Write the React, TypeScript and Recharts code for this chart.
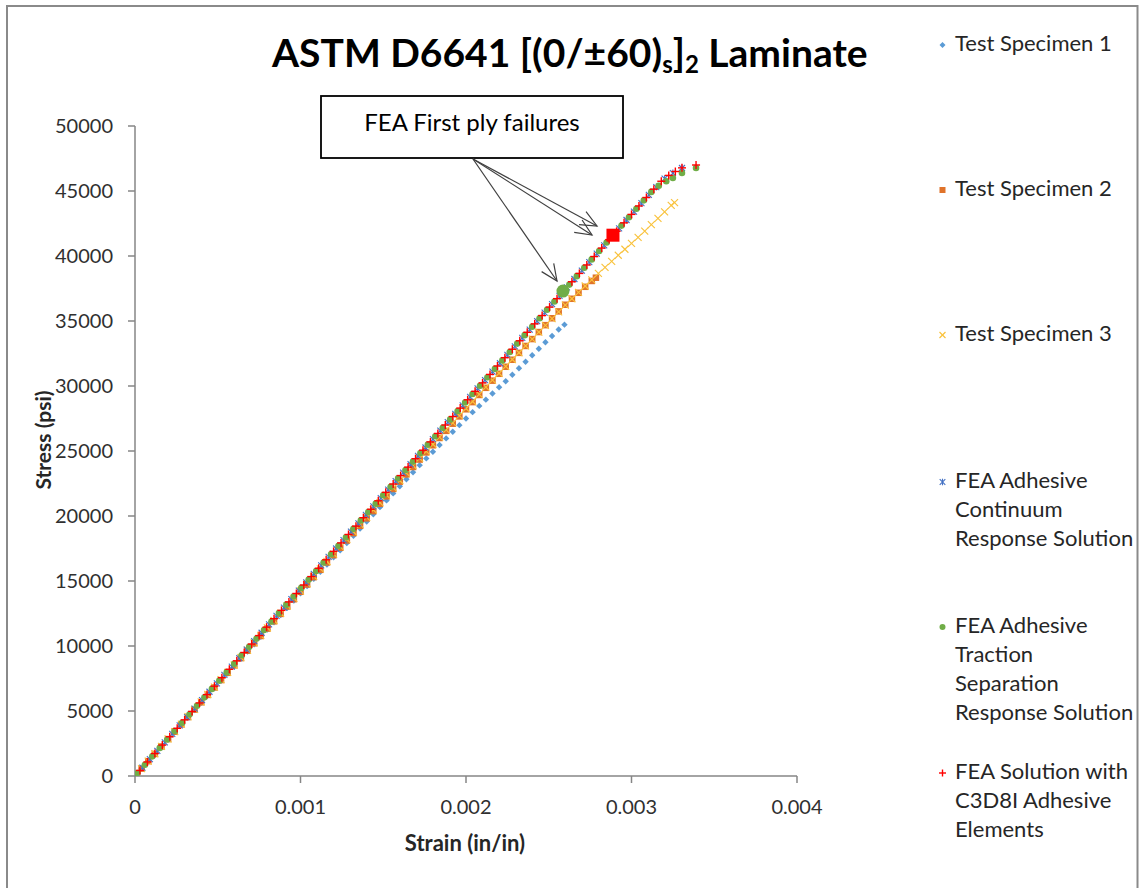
import React from 'react';
import { ScatterChart, Scatter, XAxis, YAxis } from 'recharts';

type P = [number, number]; // [strain in microstrain, stress in psi]

const xTicks = [0, 0.001, 0.002, 0.003, 0.004];
const yTicks = [0, 5000, 10000, 15000, 20000, 25000, 30000, 35000, 40000, 45000, 50000];

const seriesNames = [
  'Test Specimen 1',
  'Test Specimen 2',
  'Test Specimen 3',
  'FEA Adhesive Continuum Response Solution',
  'FEA Adhesive Traction Separation Response Solution',
  'FEA Solution with C3D8I Adhesive Elements',
];

const specimen1: P[] = [
  [0, 0], [40, 570], [80, 1130], [120, 1700], [160, 2260], [200, 2830], [240, 3390], [280, 3950], [320, 4520],
  [360, 5080], [400, 5640], [440, 6210], [480, 6770], [520, 7330], [560, 7890], [600, 8450], [640, 9020],
  [680, 9580], [720, 10140], [760, 10700], [800, 11260], [840, 11820], [880, 12380], [920, 12930], [960, 13490],
  [1000, 14050], [1040, 14610], [1080, 15160], [1120, 15710], [1160, 16270], [1200, 16820], [1240, 17370],
  [1280, 17920], [1320, 18480], [1360, 19030], [1400, 19580], [1440, 20130], [1480, 20680], [1520, 21200],
  [1560, 21740], [1600, 22280], [1640, 22830], [1680, 23370], [1720, 23910], [1760, 24430], [1800, 24940],
  [1840, 25460], [1880, 25970], [1920, 26480], [1960, 26990], [2000, 27500], [2040, 27990], [2080, 28470],
  [2120, 28950], [2160, 29420], [2200, 29900], [2240, 30370], [2280, 30860], [2320, 31370], [2360, 31870],
  [2400, 32370], [2440, 32860], [2480, 33360], [2520, 33850], [2560, 34350], [2595, 34720],
];

const specimen2: P[] = [
  [0, 0], [40, 570], [80, 1140], [120, 1700], [160, 2270], [200, 2840], [240, 3410], [280, 3970], [320, 4540],
  [360, 5110], [400, 5670], [440, 6240], [480, 6810], [520, 7380], [560, 7940], [600, 8510], [640, 9070],
  [680, 9640], [720, 10210], [760, 10770], [800, 11340], [840, 11900], [880, 12470], [920, 13040], [960, 13600],
  [1000, 14170], [1040, 14730], [1080, 15300], [1120, 15860], [1160, 16430], [1200, 16990], [1240, 17560],
  [1280, 18120], [1320, 18690], [1360, 19250], [1400, 19820], [1440, 20380], [1480, 20940], [1520, 21510],
  [1560, 22080], [1600, 22640], [1640, 23200], [1680, 23770], [1720, 24340], [1760, 24890], [1800, 25440],
  [1840, 26000], [1880, 26550], [1920, 27100], [1960, 27660], [2000, 28210], [2040, 28760], [2080, 29310],
  [2120, 29860], [2160, 30410], [2200, 30940], [2240, 31480], [2280, 32020], [2320, 32550], [2360, 33080],
  [2400, 33610], [2440, 34150], [2480, 34680], [2520, 35210], [2560, 35740], [2600, 36250], [2640, 36710],
  [2680, 37170], [2720, 37630], [2760, 38080], [2785, 38330],
];

const specimen3: P[] = [
  [0, 0], [40, 570], [80, 1140], [120, 1710], [160, 2280], [200, 2850], [240, 3420], [280, 3990], [320, 4560],
  [360, 5130], [400, 5700], [440, 6270], [480, 6840], [520, 7410], [560, 7970], [600, 8540], [640, 9110],
  [680, 9680], [720, 10250], [760, 10820], [800, 11390], [840, 11960], [880, 12520], [920, 13090], [960, 13660],
  [1000, 14230], [1040, 14800], [1080, 15360], [1120, 15930], [1160, 16500], [1200, 17070], [1240, 17630],
  [1280, 18200], [1320, 18770], [1360, 19330], [1400, 19900], [1440, 20470], [1480, 21030], [1520, 21600],
  [1560, 22170], [1600, 22730], [1640, 23300], [1680, 23870], [1720, 24430], [1760, 24970], [1800, 25520],
  [1840, 26070], [1880, 26620], [1920, 27170], [1960, 27720], [2000, 28270], [2040, 28810], [2080, 29360],
  [2120, 29910], [2160, 30450], [2200, 30980], [2240, 31510], [2280, 32040], [2320, 32560], [2360, 33090],
  [2400, 33610], [2440, 34140], [2480, 34660], [2520, 35180], [2560, 35700], [2600, 36220], [2640, 36710],
  [2680, 37200], [2720, 37690], [2760, 38170], [2800, 38660], [2840, 39130], [2880, 39590], [2920, 40060],
  [2960, 40520], [3000, 40970], [3040, 41430], [3080, 41910], [3120, 42410], [3160, 42900], [3200, 43400],
  [3240, 43890], [3260, 44100],
];

const feaContinuum: P[] = [
  [0, 0], [45, 650], [90, 1300], [135, 1940], [180, 2590], [225, 3240], [270, 3890], [315, 4530], [360, 5180],
  [405, 5830], [450, 6480], [495, 7130], [540, 7780], [585, 8420], [630, 9070], [675, 9720], [720, 10370],
  [765, 11020], [810, 11660], [855, 12310], [900, 12960], [945, 13610], [990, 14260], [1035, 14900], [1080, 15550],
  [1125, 16200], [1170, 16850], [1215, 17500], [1260, 18140], [1305, 18790], [1350, 19440], [1395, 20090],
  [1440, 20740], [1485, 21380], [1530, 22030], [1575, 22680], [1620, 23330], [1665, 23980], [1710, 24620],
  [1755, 25270], [1800, 25920], [1845, 26570], [1890, 27220], [1935, 27860], [1980, 28510], [2025, 29160],
  [2070, 29810], [2115, 30460], [2160, 31100], [2205, 31750], [2250, 32400], [2295, 33050], [2340, 33700],
  [2385, 34340], [2430, 34990], [2475, 35640], [2520, 36290], [2565, 36940], [2610, 37580], [2655, 38230],
  [2700, 38880], [2745, 39530], [2790, 40180], [2835, 40820], [2880, 41470], [2925, 42120], [2970, 42770],
  [3015, 43420], [3060, 44060], [3105, 44710], [3150, 45300], [3200, 45950], [3250, 46380], [3305, 46770],
];

const feaTraction: P[] = [
  [15, 220], [60, 860], [105, 1510], [150, 2160], [195, 2810], [240, 3460], [285, 4100], [330, 4750], [375, 5400],
  [420, 6050], [465, 6700], [510, 7340], [555, 7990], [600, 8640], [645, 9290], [690, 9940], [735, 10580],
  [780, 11230], [825, 11880], [870, 12530], [915, 13180], [960, 13820], [1005, 14470], [1050, 15120], [1095, 15770],
  [1140, 16420], [1185, 17060], [1230, 17710], [1275, 18360], [1320, 19010], [1365, 19660], [1410, 20300],
  [1455, 20950], [1500, 21600], [1545, 22250], [1590, 22900], [1635, 23540], [1680, 24190], [1725, 24840],
  [1770, 25490], [1815, 26140], [1860, 26780], [1905, 27430], [1950, 28080], [1995, 28730], [2040, 29380],
  [2085, 30020], [2130, 30670], [2175, 31320], [2220, 31970], [2265, 32620], [2310, 33260], [2355, 33910],
  [2400, 34560], [2445, 35210], [2490, 35860], [2535, 36500], [2580, 37150], [2625, 37800], [2670, 38450],
  [2715, 39100], [2760, 39740], [2805, 40390], [2850, 41040], [2895, 41690], [2940, 42340], [2985, 42980],
  [3030, 43630], [3075, 44280], [3120, 44930], [3165, 45400], [3210, 45750], [3250, 46000], [3305, 46380],
  [3390, 46770],
];

const feaC3D8I: P[] = [
  [30, 430], [75, 1080], [120, 1730], [165, 2380], [210, 3020], [255, 3670], [300, 4320], [345, 4970], [390, 5620],
  [435, 6260], [480, 6910], [525, 7560], [570, 8210], [615, 8860], [660, 9500], [705, 10150], [750, 10800],
  [795, 11450], [840, 12100], [885, 12740], [930, 13390], [975, 14040], [1020, 14690], [1065, 15340], [1110, 15980],
  [1155, 16630], [1200, 17280], [1245, 17930], [1290, 18580], [1335, 19220], [1380, 19870], [1425, 20520],
  [1470, 21170], [1515, 21820], [1560, 22460], [1605, 23110], [1650, 23760], [1695, 24410], [1740, 25060],
  [1785, 25700], [1830, 26350], [1875, 27000], [1920, 27650], [1965, 28300], [2010, 28940], [2055, 29590],
  [2100, 30240], [2145, 30890], [2190, 31540], [2235, 32180], [2280, 32830], [2325, 33480], [2370, 34130],
  [2415, 34780], [2460, 35420], [2505, 36070], [2550, 36720], [2595, 37370], [2640, 38020], [2685, 38660],
  [2730, 39310], [2775, 39960], [2820, 40610], [2865, 41260], [2910, 41900], [2955, 42550], [3000, 43200],
  [3045, 43850], [3090, 44500], [3135, 45140], [3180, 45750], [3225, 46200], [3265, 46500], [3305, 46780],
  [3390, 47000],
];

const firstPlyTraction: P[] = [[2586, 37300]];
const firstPlyC3D8I: P[] = [[2888, 41600]];

const toPts = (a: P[]) => a.map(([e, s]) => ({ x: e / 1e6, y: s }));

const W = 1139;
const H = 888;
const FONT = 'Lato, "Open Sans", sans-serif';
const C_BLUE = '#5B9BD5';
const C_ORANGE = '#E0732A';
const C_YELLOW = '#F9C23C';
const C_DBLUE = '#4472C4';
const C_GREEN = '#70AD47';
const C_RED = '#FF0000';

const Diamond = ({ cx, cy, r = 3.2 }: any) => (
  <polygon points={`${cx},${cy - r} ${cx + r},${cy} ${cx},${cy + r} ${cx - r},${cy}`} fill={C_BLUE} />
);
const Square = ({ cx, cy, s = 6.5 }: any) => (
  <rect x={cx - s / 2} y={cy - s / 2} width={s} height={s} fill={C_ORANGE} />
);
const XMark = ({ cx, cy, h = 3.5 }: any) => (
  <g stroke={C_YELLOW} strokeWidth={1.15}>
    <line x1={cx - h} y1={cy - h} x2={cx + h} y2={cy + h} />
    <line x1={cx - h} y1={cy + h} x2={cx + h} y2={cy - h} />
  </g>
);
const Star = ({ cx, cy, h = 3 }: any) => (
  <g stroke={C_DBLUE} strokeWidth={1.1}>
    <line x1={cx - h} y1={cy - h} x2={cx + h} y2={cy + h} />
    <line x1={cx - h} y1={cy + h} x2={cx + h} y2={cy - h} />
    <line x1={cx} y1={cy - h - 0.5} x2={cx} y2={cy + h + 0.5} />
  </g>
);
const Dot = ({ cx, cy, r = 3.3 }: any) => <circle cx={cx} cy={cy} r={r} fill={C_GREEN} />;
const Plus = ({ cx, cy, h = 4 }: any) => (
  <g stroke={C_RED} strokeWidth={1.4}>
    <line x1={cx - h} y1={cy} x2={cx + h} y2={cy} />
    <line x1={cx} y1={cy - h} x2={cx} y2={cy + h} />
  </g>
);
const BigDot = ({ cx, cy }: any) => <circle cx={cx} cy={cy} r={6.5} fill={C_GREEN} />;
const BigSquare = ({ cx, cy }: any) => (
  <rect x={cx - 6.5} y={cy - 6.5} width={13} height={13} fill={C_RED} />
);

const legendItems: { lines: string[]; baseline: number; marker: (cx: number, cy: number) => React.ReactNode }[] = [
  { lines: ['Test Specimen 1'], baseline: 51, marker: (cx, cy) => <Diamond cx={cx} cy={cy} r={3} /> },
  { lines: ['Test Specimen 2'], baseline: 196, marker: (cx, cy) => <Square cx={cx} cy={cy} s={6} /> },
  { lines: ['Test Specimen 3'], baseline: 341, marker: (cx, cy) => <XMark cx={cx} cy={cy} h={3} /> },
  { lines: ['FEA Adhesive', 'Continuum', 'Response Solution'], baseline: 488, marker: (cx, cy) => <Star cx={cx} cy={cy} h={2.8} /> },
  { lines: ['FEA Adhesive', 'Traction', 'Separation', 'Response Solution'], baseline: 633, marker: (cx, cy) => <Dot cx={cx} cy={cy} r={3} /> },
  { lines: ['FEA Solution with', 'C3D8I Adhesive', 'Elements'], baseline: 779, marker: (cx, cy) => <Plus cx={cx} cy={cy} h={3.5} /> },
];

const arrowStart = { x: 473, y: 159 };
const arrowTips = [
  { x: 557, y: 281 },
  { x: 597, y: 226 },
  { x: 592, y: 235 },
];

function Arrow({ x1, y1, x2, y2 }: { x1: number; y1: number; x2: number; y2: number }) {
  const ang = Math.atan2(y2 - y1, x2 - x1);
  const L = 18;
  const spread = 0.42;
  const a1 = ang + Math.PI - spread;
  const a2 = ang + Math.PI + spread;
  return (
    <g stroke="#404040" strokeWidth={1.2} fill="none">
      <line x1={x1} y1={y1} x2={x2} y2={y2} />
      <polyline
        points={`${x2 + L * Math.cos(a1)},${y2 + L * Math.sin(a1)} ${x2},${y2} ${x2 + L * Math.cos(a2)},${y2 + L * Math.sin(a2)}`}
      />
    </g>
  );
}

export default function App() {
  const tickStyle = { fill: '#303030', fontSize: 20, fontFamily: FONT };
  return (
    <div style={{ position: 'absolute', left: 0, top: 0, width: W, height: H, background: '#fff', fontFamily: FONT, overflow: 'hidden' }}>
      <ScatterChart width={W} height={H} margin={{ top: 126, right: 342, bottom: 0, left: 0 }}>
        <XAxis
          type="number"
          dataKey="x"
          domain={[0, 0.004]}
          ticks={xTicks}
          height={112}
          tickSize={7}
          tickMargin={17}
          axisLine={{ stroke: '#868686', strokeWidth: 1.5 }}
          tickLine={{ stroke: '#868686', strokeWidth: 1.5 }}
          tick={tickStyle}
          allowDataOverflow
        />
        <YAxis
          type="number"
          dataKey="y"
          domain={[0, 50000]}
          ticks={yTicks}
          width={135}
          tickSize={7}
          tickMargin={15}
          axisLine={{ stroke: '#868686', strokeWidth: 1.5 }}
          tickLine={{ stroke: '#868686', strokeWidth: 1.5 }}
          tick={tickStyle}
          allowDataOverflow
        />
        <Scatter name={seriesNames[0]} data={toPts(specimen1)} shape={(p: any) => <Diamond cx={p.cx} cy={p.cy} />} isAnimationActive={false} />
        <Scatter name={seriesNames[1]} data={toPts(specimen2)} shape={(p: any) => <Square cx={p.cx} cy={p.cy} />} isAnimationActive={false} />
        <Scatter name={seriesNames[2]} data={toPts(specimen3)} shape={(p: any) => <XMark cx={p.cx} cy={p.cy} />} isAnimationActive={false} />
        <Scatter name={seriesNames[3]} data={toPts(feaContinuum)} shape={(p: any) => <Star cx={p.cx} cy={p.cy} />} isAnimationActive={false} />
        <Scatter name={seriesNames[4]} data={toPts(feaTraction)} shape={(p: any) => <Dot cx={p.cx} cy={p.cy} />} isAnimationActive={false} />
        <Scatter name={seriesNames[5]} data={toPts(feaC3D8I)} shape={(p: any) => <Plus cx={p.cx} cy={p.cy} />} isAnimationActive={false} />
        <Scatter name="first ply traction" data={toPts(firstPlyTraction)} shape={(p: any) => <BigDot cx={p.cx} cy={p.cy} />} isAnimationActive={false} />
        <Scatter name="first ply C3D8I" data={toPts(firstPlyC3D8I)} shape={(p: any) => <BigSquare cx={p.cx} cy={p.cy} />} isAnimationActive={false} />
      </ScatterChart>
      <svg width={W} height={H} style={{ position: 'absolute', left: 0, top: 0, pointerEvents: 'none' }}>
        <rect x={7} y={6} width={1130.5} height={900} fill="none" stroke="#8a8a8a" strokeWidth={2} />
        <text x={272} y={67} fontFamily={FONT} fontWeight={700} fontSize={39} fill="#000">
          ASTM D6641 [(0/±60)
          <tspan fontSize={24} dy={6}>s</tspan>
          <tspan dy={-6}>]</tspan>
          <tspan fontSize={24} dy={6}>2</tspan>
          <tspan dy={-6}> Laminate</tspan>
        </text>
        <text x={0} y={0} transform="translate(51,440) rotate(-90)" textAnchor="middle" fontFamily={FONT} fontWeight={700} fontSize={21} fill="#262626">
          Stress (psi)
        </text>
        <text x={465} y={851} textAnchor="middle" fontFamily={FONT} fontWeight={700} fontSize={22} fill="#262626">
          Strain (in/in)
        </text>
        <rect x={321} y={96} width={302} height={62} fill="#fff" stroke="#000" strokeWidth={1.8} />
        <text x={472} y={131} textAnchor="middle" fontFamily={FONT} fontSize={24} fill="#000">
          FEA First ply failures
        </text>
        {arrowTips.map((t, i) => (
          <Arrow key={i} x1={arrowStart.x} y1={arrowStart.y} x2={t.x} y2={t.y} />
        ))}
        {legendItems.map((it, i) => (
          <g key={i}>
            {it.marker(942.5, it.baseline - 6)}
            {it.lines.map((ln, j) => (
              <text key={j} x={955} y={it.baseline + j * 29} fontFamily={FONT} fontSize={22} fill="#262626">
                {ln}
              </text>
            ))}
          </g>
        ))}
      </svg>
    </div>
  );
}
